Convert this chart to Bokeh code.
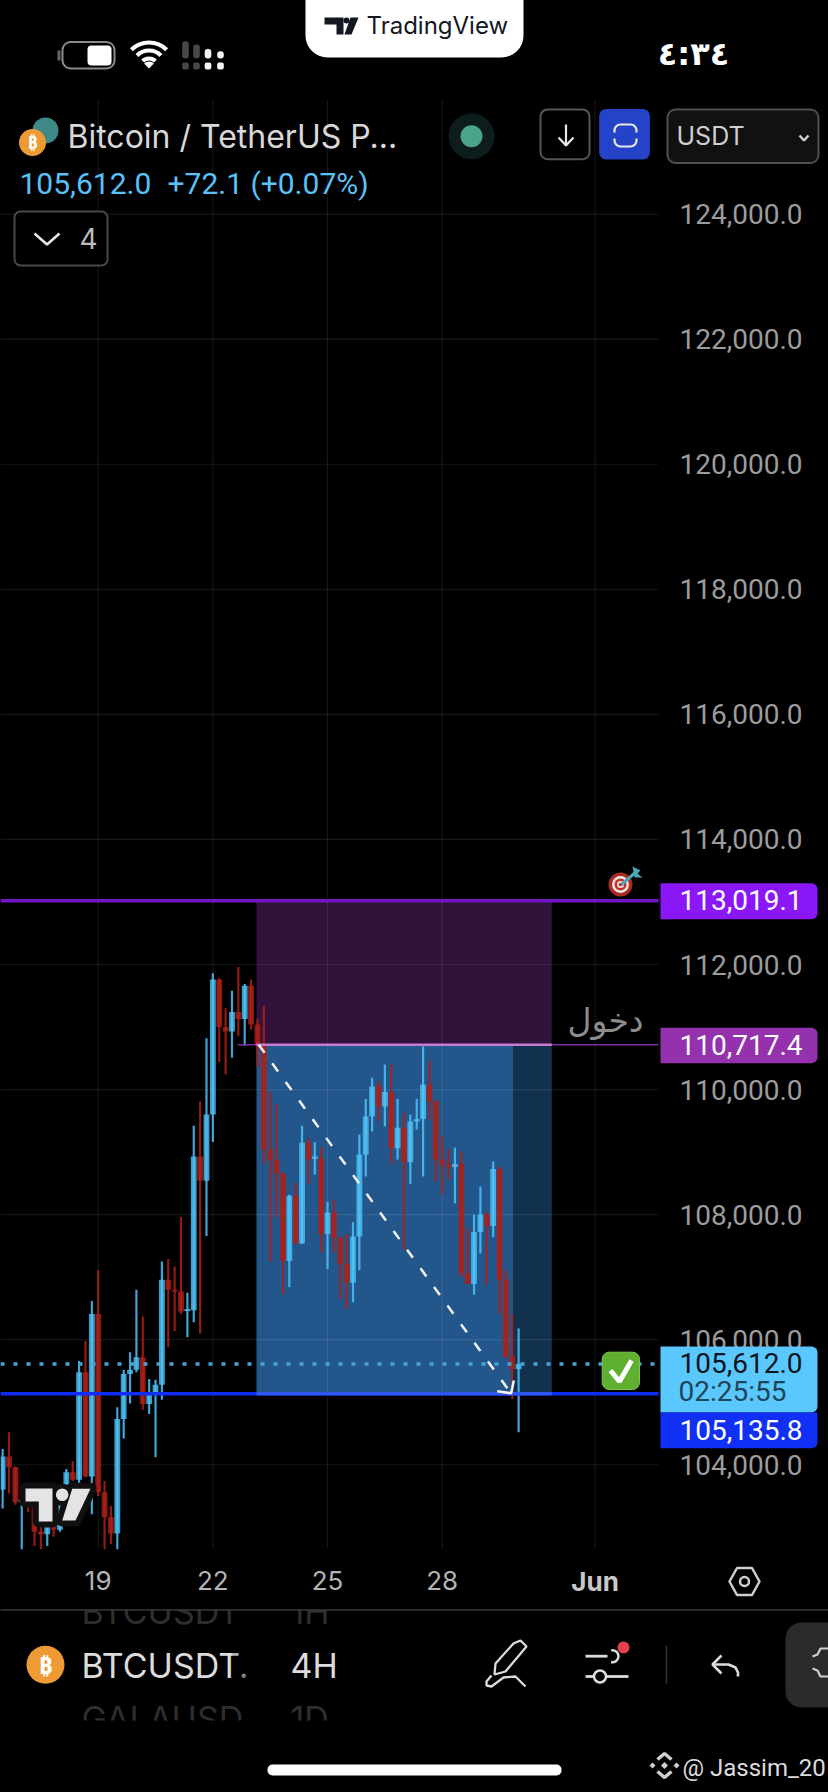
from bokeh.plotting import figure
from bokeh.models import Range1d, LinearAxis, FixedTicker, NumeralTickFormatter
from bokeh.core.properties import value
from bokeh.embed import file_html
from bokeh.resources import INLINE

# ---- data (4H candles, index 0 = 19 May 00:00) ----
candle_idx = list(range(-15, 67))
direction = list("brrbrrrbrbbrbrbr" "rrbbbbrbbbrrrbbr" "bbrrbrbrrrrrrbrb" "rbrbrrrbbbbrbrbr" "bbbrrrrbrrbbrbrr" "rb")
body_top = [104130,104130,103960,103450,103400,103340,102930,103040,103040,103640,103880,103880,105480,105480,106410,106410,
            103560,103160,104730,105450,105520,105720,105720,105160,105280,106960,106960,106800,106770,106490,108930,108930,
            109600,111760,111760,111000,111240,111240,111660,111660,111040,110700,109040,108880,108650,108300,108300,109150,
            109150,108930,108900,108030,108030,107630,107210,107650,108960,109570,110050,110050,109960,109960,109390,109390,
            109490,109530,110080,110080,109810,108880,108800,108810,108810,107060,107720,108000,108000,108730,108730,106960,
            105730,105612]
body_bottom = [103600,103960,103400,103400,103340,102930,102890,102890,102960,102960,103640,103760,103760,103810,103810,103560,
               103160,102900,102900,104730,105450,105520,104970,104970,105160,105280,106800,106770,106450,106460,106470,108540,
               108540,109600,111000,110930,110930,111130,111130,111040,110700,109040,108880,108650,107260,107260,107540,107540,
               108880,108890,107690,107690,107630,107210,106920,106910,107650,108960,109570,109730,109730,109060,109060,108840,
               108840,109490,109530,109810,108880,108800,108760,108760,107060,106890,106890,107720,107820,107820,106960,105730,
               105530,105530]
high = [104250,104520,103970,103560,103500,103420,103050,103260,103100,103680,103930,104060,105660,105980,106620,107110,
        103740,103340,104920,105520,105800,106800,106370,105370,105360,107250,107290,107170,107960,106750,109420,109810,
        110820,111860,111780,111300,111580,111960,111690,111760,111130,111340,109960,109760,108680,108320,108510,109420,
        109220,109160,109080,108200,108240,107650,107690,107880,109280,109850,110190,110130,110400,110400,109850,109630,
        109600,109850,110690,110460,109840,109250,109040,109070,109010,107780,108000,108450,108040,108850,108770,107110,
        106410,106180]
low = [103300,103540,103360,102650,103240,102700,102650,102700,102850,102930,103550,103740,103690,103800,103210,103500,
       102650,102730,102650,104420,104980,105480,104880,104810,104120,105040,105880,106140,106410,106040,106280,106100,
       107660,109160,110440,110240,110510,110860,110700,110960,110360,108810,107250,107960,106730,106840,107530,107530,
       108490,108640,107400,107130,107390,106650,106490,106600,107110,108610,109330,109500,109410,108810,108880,107440,
       108490,109360,108610,109520,108530,108330,108560,108180,107000,106890,106720,107380,106880,107640,106410,105700,
       105050,104520]

price_ticks = [104000,106000,108000,110000,112000,114000,116000,118000,120000,122000,124000]
day_ticks = [0, 18, 36, 54]
day_labels = {0: "19", 18: "22", 36: "25", 54: "28"}
jun_tick = [78]
jun_label = {78: "Jun"}

target_price = 113019.1
entry_price = 110717.4
stop_price = 105135.8
last_price = 105612.0
box_start, box_mid, box_end = 24.85, 65.2, 71.2
arrow_start, arrow_end = 25.2, 64.85

# ---- scales: pixel <-> data ----
PX_PER_CANDLE, X0 = 6.37, 97.7
PX_PER_USD, Y112 = 0.06253, 964.0
xd = lambda px: (px - X0) / PX_PER_CANDLE
yd = lambda py: 112000 - (py - Y112) / PX_PER_USD

W, H = 828, 1792
p = figure(width=W, height=H, output_backend="svg", toolbar_location=None,
           x_range=Range1d(xd(0), xd(W)), y_range=Range1d(yd(H), yd(0)),
           min_border=0, min_border_left=0, min_border_right=0, min_border_top=0, min_border_bottom=0,
           background_fill_color="#000000", border_fill_color="#000000", outline_line_color=None,
           x_axis_type=None, y_axis_type=None,
           styles={"position": "fixed", "left": "0px", "top": "0px", "background-color": "#000000"})
p.grid.visible = False
p.extra_x_ranges["sx"] = Range1d(0, W)
p.extra_y_ranges["sy"] = Range1d(H, 0)

S = dict(x_range_name="sx", y_range_name="sy", level="overlay")
INTER, ROBOTO = value("Inter"), value("Roboto")

CH_L, CH_R, CH_T, CH_B = xd(0), xd(658), yd(100), yd(1548)

# ---- zones ----
p.quad(left=[box_start], right=[box_end], top=[target_price], bottom=[entry_price], fill_color="#30123a", line_color=None)
p.quad(left=[box_start], right=[box_mid], top=[entry_price], bottom=[stop_price], fill_color="#23578c", line_color=None)
p.quad(left=[box_mid], right=[box_end], top=[entry_price], bottom=[stop_price], fill_color="#12314f", line_color=None)

# ---- grid from the ticks ----
all_x = day_ticks + jun_tick
p.segment(x0=all_x, x1=all_x, y0=[CH_B]*len(all_x), y1=[CH_T]*len(all_x), line_color="#ffffff", line_alpha=0.085, line_width=1.2)
p.segment(x0=[CH_L]*len(price_ticks), x1=[CH_R]*len(price_ticks), y0=price_ticks, y1=price_ticks, line_color="#ffffff", line_alpha=0.085, line_width=1.2)

# ---- axes ----
no_ticks = dict(axis_line_color=None, major_tick_line_color=None, minor_tick_line_color=None,
                major_tick_out=0, major_tick_in=0, minor_tick_out=0, minor_tick_in=0)
ya = LinearAxis(fixed_location=CH_R, ticker=FixedTicker(ticks=price_ticks),
                formatter=NumeralTickFormatter(format="0,0.0"),
                major_label_text_color="#9c9c9c", major_label_text_font="Roboto",
                major_label_text_font_size="28px", major_label_standoff=21, **no_ticks)
p.add_layout(ya, "right")
xa = LinearAxis(fixed_location=CH_B, ticker=FixedTicker(ticks=day_ticks), major_label_overrides=day_labels,
                major_label_text_color="#b4b4b4", major_label_text_font="Inter",
                major_label_text_font_size="26px", major_label_standoff=22, **no_ticks)
p.add_layout(xa, "below")
xb = LinearAxis(fixed_location=CH_B, ticker=FixedTicker(ticks=jun_tick), major_label_overrides=jun_label,
                major_label_text_color="#c8c8c8", major_label_text_font="Inter", major_label_text_font_style="bold",
                major_label_text_font_size="26px", major_label_standoff=17, **no_ticks)
p.add_layout(xb, "below")

# ---- candles ----
colors = ["#4ec2f8" if d == "b" else "#ac2019" for d in direction]
p.segment(x0=candle_idx, x1=candle_idx, y0=low, y1=high, line_color=colors, line_width=2.2, line_alpha=0.85)
p.vbar(x=candle_idx, width=0.92, top=body_top, bottom=body_bottom, fill_color=colors, fill_alpha=0.8, line_color=None)

# ---- levels ----
p.segment(x0=[xd(237)], x1=[CH_R], y0=[entry_price], y1=[entry_price], line_color="#7a2ea0", line_width=1.5)
p.segment(x0=[box_start], x1=[box_end], y0=[entry_price], y1=[entry_price], line_color="#c77dd6", line_width=2.5)
p.segment(x0=[CH_L], x1=[CH_R], y0=[target_price], y1=[target_price], line_color="#7216c4", line_width=3.5)
p.segment(x0=[CH_L], x1=[CH_R], y0=[stop_price], y1=[stop_price], line_color="#0f2df5", line_width=3.5)
p.segment(x0=[box_start], x1=[box_end], y0=[stop_price], y1=[stop_price], line_color="#2f55f5", line_width=3.5)
p.segment(x0=[CH_L], x1=[CH_R], y0=[last_price], y1=[last_price], line_color="#46a5d2", line_width=3.6, line_dash="4 9")

# ---- dashed path with arrow head ----
p.segment(x0=[arrow_start], x1=[arrow_end], y0=[entry_price], y1=[stop_price], line_color="#f2f2f2", line_width=2.5, line_dash="10 13")
p.multi_line(xs=[[496.7, 510.7, 513.3]], ys=[[1390.7, 1392.8, 1380]], line_color="#f2f2f2", line_width=2.5, **S)

# ---- TradingView watermark ----
T_x, T_y = [25, 52, 52, 38.3, 38.3, 25], [1488, 1488, 1521, 1521, 1501, 1501]
sl_x, sl_y = [71.7, 90, 75, 61.7], [1488.3, 1488.3, 1520, 1520]
for xs_, ys_ in ((T_x, T_y), (sl_x, sl_y)):
    p.patch(xs_, ys_, fill_color="#101010", line_color="#101010", line_width=12, line_join="round", **S)
p.circle(x=[61.7], y=[1494.3], radius=11, fill_color="#101010", line_color=None, **S)
p.patch(T_x, T_y, fill_color="#e4e4e4", line_color=None, **S)
p.patch(sl_x, sl_y, fill_color="#e4e4e4", line_color=None, **S)
p.circle(x=[61.7], y=[1494.3], radius=6.3, fill_color="#e4e4e4", line_color=None, **S)

# ---- price tags ----
def tag(y0, y1, col, rad=(0, 6, 6, 0)):
    p.quad(left=[660], right=[817], top=[y0], bottom=[y1], fill_color=col, line_color=None, border_radius=rad, **S)
def txt(x, y, s, size, col, font=INTER, align="left", style="normal", **kw):
    p.text(x=[x], y=[y], text=[s], text_font=font, text_font_size=f"{size}px", text_color=col, text_align=align,
           text_baseline="middle", text_font_style=style, **kw, **S)

tag(882.7, 918.7, "#8a17f5")
tag(1027.3, 1062.7, "#9431ad")
tag(1346, 1412, "#5ac8ff")
tag(1412, 1447.7, "#1030f5", rad=(0, 0, 6, 0))
fmt = "{:,.1f}".format
txt(679, 899.5, fmt(target_price), 28, "#ffffff", font=ROBOTO)
txt(679, 1044, fmt(entry_price), 28, "#ffffff", font=ROBOTO)
txt(679, 1362, fmt(last_price), 28, "#08141c", font=ROBOTO)
txt(678, 1391, "02:25:55", 28, "#1d4556", font=ROBOTO)
txt(679, 1429, fmt(stop_price), 28, "#ffffff", font=ROBOTO)

# emoji-like markers
txt(605, 1020, "دخول", 33, "#8c8c8c", font=value("DejaVu Sans"), align="center")
for r, c in ((12, "#a82a22"), (8.5, "#f2e6e0"), (6, "#c4302a"), (3.5, "#f2e6e0"), (1.8, "#c4302a")):
    p.circle(x=[620], y=[884], radius=r, fill_color=c, line_color=None, **S)
p.segment(x0=[621], y0=[884], x1=[636], y1=[871], line_color="#4aa6b8", line_width=3, **S)
p.patch([632, 640, 637, 642, 634], [866, 870, 873, 877, 877], fill_color="#4aa6b8", line_color=None, **S)
p.quad(left=[601.7], right=[639], top=[1351.7], bottom=[1389], fill_color="#5fb030", line_color="#7fc84e", line_width=1, border_radius=7, **S)
p.line([610, 619, 631], [1370, 1381, 1360], line_color="#ffffff", line_width=5, **S)

# ---- top chrome ----
p.quad(left=[305], right=[523], top=[-5], bottom=[57], fill_color="#ffffff", line_color=None, border_radius=(0, 0, 22, 22), **S)
p.patch([324, 343, 343, 336, 336, 324], [17, 17, 34, 34, 24, 24], fill_color="#131722", line_color=None, **S)
p.patch([350, 358, 351, 344], [17, 17, 34, 34], fill_color="#131722", line_color=None, **S)
p.circle(x=[346], y=[20], radius=3, fill_color="#131722", line_color=None, **S)
txt(366, 24.5, "TradingView", 24, "#131722", style="normal")

p.quad(left=[62], right=[114], top=[41.5], bottom=[68], fill_color="#000000", line_color="#8a8a8a", line_width=2, border_radius=8, **S)
p.quad(left=[57], right=[60], top=[50], bottom=[60], fill_color="#666666", line_color=None, **S)
p.quad(left=[87], right=[111], top=[45], bottom=[65], fill_color="#ffffff", line_color=None, border_radius=4, **S)
for r in (9, 17, 25):
    p.arc(x=[148.5], y=[67], radius=r, start_angle=0.79, end_angle=2.35, line_color="#ffffff", line_width=4.2, **S)
p.wedge(x=[148.5], y=[68], radius=7, start_angle=0.79, end_angle=2.35, fill_color="#ffffff", line_color=None, **S)
for x_, t_, c_ in ((185, 40.7, "#484848"), (196, 44, "#484848"), (207.5, 48.5, "#f5f5f5"), (220, 50.7, "#f5f5f5")):
    p.quad(left=[x_-3.3], right=[x_+3.3], top=[t_], bottom=[58], fill_color=c_, line_color=None, border_radius=3, **S)
    p.quad(left=[x_-3.3], right=[x_+3.3], top=[62], bottom=[69], fill_color=c_, line_color=None, border_radius=2, **S)
txt(693, 53, "٤:٣٤", 32, "#ffffff", font=value("DejaVu Sans"), align="center", style="bold")

# header
p.circle(x=[45], y=[130], radius=13, fill_color="#3d8a86", line_color=None, **S)
p.circle(x=[32], y=[142], radius=13.5, fill_color="#ee9a35", line_color=None, **S)
txt(32, 142, "₿", 17, "#ffffff", font=value("Noto Sans"), align="center", style="bold")
txt(67, 136, "Bitcoin / TetherUS P...", 32, "#d8d8d8")
p.circle(x=[471], y=[135.7], radius=23, fill_color="#0c1d1b", line_color=None, **S)
p.circle(x=[471], y=[135.7], radius=11, fill_color="#4aa38b", line_color=None, **S)
p.quad(left=[540], right=[589], top=[109], bottom=[158.7], fill_color="#000000", line_color="#565656", line_width=2, border_radius=7, **S)
p.multi_line(xs=[[565.5, 565.5], [558, 565.5, 573]], ys=[[124, 145], [137, 145, 137]], line_color="#e8e8e8", line_width=2.2, **S)
p.quad(left=[598.7], right=[649.4], top=[108.5], bottom=[159], fill_color="#2443c8", line_color=None, border_radius=7, **S)
p.quad(left=[614], right=[636], top=[124], bottom=[146], fill_color="#2443c8", line_color="#e8e8e8", line_width=2.2, border_radius=6, **S)
p.quad(left=[612], right=[638], top=[132], bottom=[138], fill_color="#2443c8", line_color=None, **S)
p.quad(left=[667], right=[818], top=[109], bottom=[162.5], fill_color="#111111", line_color="#505050", line_width=2, border_radius=8, **S)
txt(676, 135.5, "USDT", 25, "#cfcfcf")
p.line([799, 803.5, 808], [135, 140, 135], line_color="#cfcfcf", line_width=2.5, **S)
txt(19, 183, fmt(last_price), 30, "#5ac2f8", font=ROBOTO)
txt(167, 183, "+72.1 (+0.07%)", 30, "#5ac2f8", font=ROBOTO)
p.quad(left=[14], right=[107], top=[211], bottom=[265], fill_color="#000000", line_color="#484848", line_width=2, border_radius=6, **S)
p.line([34, 46.5, 59], [233, 244, 233], line_color="#e8e8e8", line_width=2.6, **S)
txt(79, 238, "4", 28, "#bdbdbd")

# gear on the time axis
p.patch([729, 736.5, 751.5, 759, 751.5, 736.5], [1581, 1567.5, 1567.5, 1581, 1594.5, 1594.5], fill_color="#000000", line_color="#cfcfcf", line_width=2.5, **S)
p.circle(x=[744], y=[1581], radius=4.5, fill_color="#000000", line_color="#cfcfcf", line_width=2.5, **S)

# ---- bottom chrome ----
txt(81, 1611, "BTCUSDT", 34, "#2e2e2e")
txt(290, 1611, "1H", 34, "#2e2e2e")
p.quad(left=[0], right=[828], top=[1598], bottom=[1609], fill_color="#000000", line_color=None, **S)
p.segment(x0=[0], x1=[828], y0=[1609.5], y1=[1609.5], line_color="#3a3a3a", line_width=1.5, **S)
txt(81, 1718, "GALAUSD", 34, "#2e2e2e")
txt(290, 1718, "1D", 34, "#2e2e2e")
p.quad(left=[0], right=[400], top=[1720], bottom=[1740], fill_color="#000000", line_color=None, **S)
p.circle(x=[45], y=[1664.3], radius=19, fill_color="#ee9a35", line_color=None, **S)
txt(45, 1664, "₿", 24, "#ffffff", font=value("Noto Sans"), align="center", style="bold")
txt(81, 1665, "BTCUSDT.", 34, "#dcdcdc")
for x0_, a_ in ((232, 0.2), (238, 0.4), (244, 0.6)):
    p.quad(left=[x0_], right=[x0_ + 6], top=[1645], bottom=[1685], fill_color="#000000", fill_alpha=a_, line_color=None, **S)
p.quad(left=[250], right=[285], top=[1645], bottom=[1685], fill_color="#000000", line_color=None, **S)
txt(290, 1665, "4H", 34, "#dcdcdc")
# pen
p.patch([513, 520, 526, 505, 494, 495], [1643, 1640, 1646, 1671, 1674, 1663], fill_color="#000000", line_color="#dcdcdc", line_width=2.3, **S)
p.line([491, 486, 486, 491, 503, 515, 525], [1675, 1681, 1685, 1686, 1677, 1676, 1686], line_color="#dcdcdc", line_width=2.3, **S)
# sliders
p.segment(x0=[585, 585, 606], x1=[607, 593, 628], y0=[1655.7, 1676, 1676], y1=[1655.7, 1676, 1676], line_color="#dcdcdc", line_width=2.8, **S)
p.circle(x=[599.5], y=[1676], radius=6, fill_color="#000000", line_color="#dcdcdc", line_width=2.5, **S)
p.arc(x=[612], y=[1655.7], radius=6, start_angle=-1.8, end_angle=1.8, line_color="#dcdcdc", line_width=2.5, **S)
p.circle(x=[623], y=[1647], radius=6, fill_color="#e5414d", line_color=None, **S)
p.segment(x0=[666], x1=[666], y0=[1645], y1=[1683], line_color="#333333", line_width=1.5, **S)
p.line([721, 712, 721], [1655, 1664, 1673], line_color="#dcdcdc", line_width=2.6, **S)
p.line([712, 728, 735, 737.5, 737.5], [1664, 1664, 1667, 1672, 1676], line_color="#dcdcdc", line_width=2.6, **S)
p.quad(left=[785], right=[850], top=[1622], bottom=[1707], fill_color="#2b2b2b", line_color=None, border_radius=16, **S)
p.multi_line(xs=[[828, 820, 817, 812], [828, 820, 817, 812]], ys=[[1648, 1648, 1654, 1656], [1676, 1676, 1670, 1668]], line_color="#cfcfcf", line_width=2.2, **S)
# footer
p.quad(left=[267], right=[561], top=[1764], bottom=[1775], fill_color="#ffffff", line_color=None, border_radius=5, **S)
p.multi_line(xs=[[657, 664, 671], [657, 664, 671]], ys=[[1759, 1753, 1759], [1771, 1777, 1771]], line_color="#cfcfcf", line_width=3.5, **S)
p.patches(xs=[[664, 667.5, 664, 660.5], [652, 655, 652, 649], [676, 679, 676, 673]],
          ys=[[1761.5, 1765, 1768.5, 1765], [1762, 1765, 1768, 1765], [1762, 1765, 1768, 1765]], fill_color="#cfcfcf", line_color=None, **S)
txt(682, 1767, "@ Jassim_20", 24, "#dcdcdc", font=ROBOTO)

open("out.html", "w").write(file_html(p, INLINE))
